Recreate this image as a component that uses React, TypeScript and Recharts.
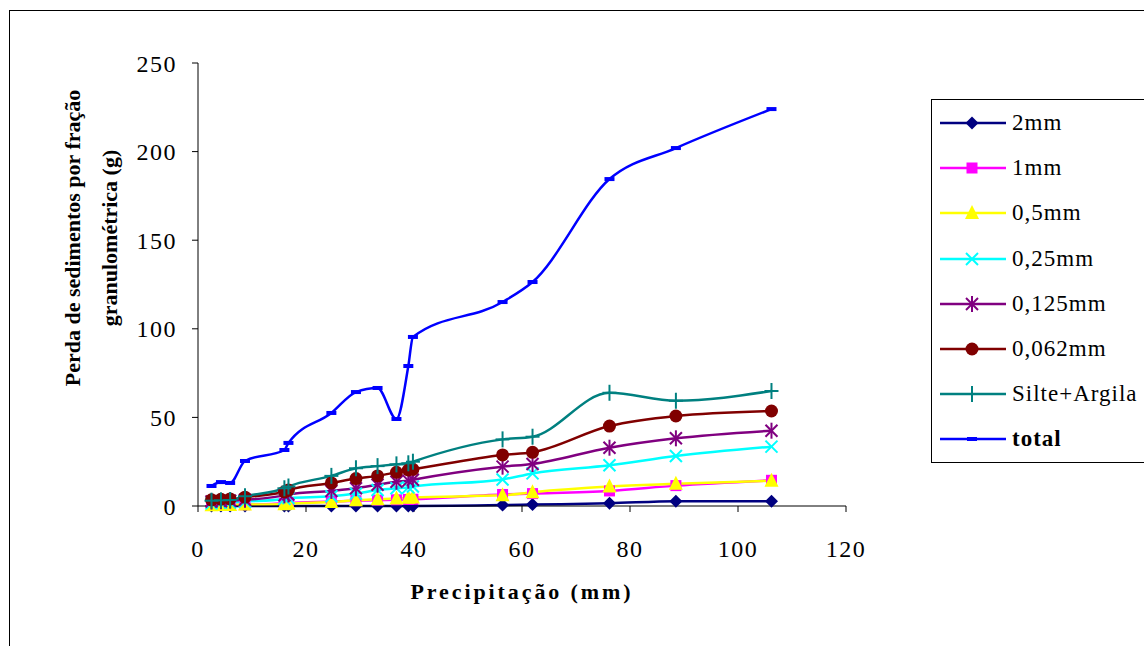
import React from 'react';
import { LineChart, Line, XAxis, YAxis } from 'recharts';

// ─── Data ─────────────────────────────────────────────────────────────────────

const precipitation = [2.5, 4.25, 5.95, 8.7, 16, 16.75, 24.7, 29.25, 33.25, 36.75, 38.95, 39.8, 56.4, 61.95, 76.2, 88.5, 106.2];

const fraction2mm = [0, 0, 0, 0, 0, 0, 0, 0, 0, 0, 0, 0, 0.5, 0.8, 1.5, 2.7, 2.7];
const fraction1mm = [0.3, 0.4, 0.5, 0.7, 1.5, 1.7, 2.5, 3, 3.3, 3.5, 3.7, 3.8, 6.5, 7, 8.5, 11.5, 14.5];
const fraction05mm = [0.4, 0.5, 0.6, 0.8, 1, 1.2, 2.2, 3.2, 3.8, 4.3, 4.6, 4.8, 6, 7.8, 11, 12.5, 14.3];
const fraction025mm = [1.5, 1.8, 2, 2.5, 4, 4.5, 5.5, 7, 9, 10, 10.5, 11, 15, 18.4, 23, 28.2, 33.5];
const fraction0125mm = [2.5, 2.7, 3, 3.5, 6, 6.5, 8.5, 10, 12, 13.7, 14.3, 14.8, 22.2, 23.7, 32.9, 38.2, 42.5];
const fraction0062mm = [3.5, 3.8, 4, 5, 8, 9, 13, 15.5, 17, 19, 20.3, 20.7, 28.8, 30.3, 45.1, 50.8, 53.6];
const silteArgila = [3, 3.2, 3.4, 5.5, 10, 11, 17, 21.3, 22.5, 23.5, 24.1, 25, 37.6, 39.1, 63.9, 59.4, 64.9];
const totalLoss = [11.3, 13.5, 13, 25.4, 31.6, 35.6, 52.5, 64.3, 66.6, 49.1, 79, 95.4, 115.1, 126.4, 184.5, 202, 224];

const xTicks = [0, 20, 40, 60, 80, 100, 120];
const yTicks = [0, 50, 100, 150, 200, 250];

type Shape = 'diamond' | 'square' | 'triangle' | 'cross' | 'star' | 'circle' | 'plus' | 'dash';

interface SeriesDef {
  key: string;
  name: string;
  color: string;
  shape: Shape;
  values: number[];
  bold?: boolean;
}

const series: SeriesDef[] = [
  { key: 'f2', name: '2mm', color: '#000080', shape: 'diamond', values: fraction2mm },
  { key: 'f1', name: '1mm', color: '#FF00FF', shape: 'square', values: fraction1mm },
  { key: 'f05', name: '0,5mm', color: '#FFFF00', shape: 'triangle', values: fraction05mm },
  { key: 'f025', name: '0,25mm', color: '#00FFFF', shape: 'cross', values: fraction025mm },
  { key: 'f0125', name: '0,125mm', color: '#800080', shape: 'star', values: fraction0125mm },
  { key: 'f0062', name: '0,062mm', color: '#800000', shape: 'circle', values: fraction0062mm },
  { key: 'silte', name: 'Silte+Argila', color: '#008080', shape: 'plus', values: silteArgila },
  { key: 'total', name: 'total', color: '#0000FF', shape: 'dash', values: totalLoss, bold: true },
];

const chartData = precipitation.map((p, i) => {
  const row: Record<string, number> = { precip: p };
  series.forEach((s) => {
    row[s.key] = s.values[i];
  });
  return row;
});

const FONT = '"Liberation Serif", "Times New Roman", serif';

// ─── Markers ──────────────────────────────────────────────────────────────────

const Marker: React.FC<{ shape: Shape; cx: number; cy: number; color: string }> = ({ shape, cx, cy, color }) => {
  switch (shape) {
    case 'diamond':
      return <polygon points={`${cx},${cy - 6.5} ${cx + 6.5},${cy} ${cx},${cy + 6.5} ${cx - 6.5},${cy}`} fill={color} />;
    case 'square':
      return <rect x={cx - 5.5} y={cy - 5.5} width={11} height={11} fill={color} />;
    case 'triangle':
      return <polygon points={`${cx},${cy - 8} ${cx + 7},${cy + 6} ${cx - 7},${cy + 6}`} fill={color} />;
    case 'cross':
      return (
        <g stroke={color} strokeWidth={2}>
          <line x1={cx - 6} y1={cy - 6} x2={cx + 6} y2={cy + 6} />
          <line x1={cx - 6} y1={cy + 6} x2={cx + 6} y2={cy - 6} />
        </g>
      );
    case 'star':
      return (
        <g stroke={color} strokeWidth={2}>
          <line x1={cx - 6} y1={cy - 6} x2={cx + 6} y2={cy + 6} />
          <line x1={cx - 6} y1={cy + 6} x2={cx + 6} y2={cy - 6} />
          <line x1={cx} y1={cy - 8} x2={cx} y2={cy + 8} />
        </g>
      );
    case 'circle':
      return <circle cx={cx} cy={cy} r={6.5} fill={color} />;
    case 'plus':
      return (
        <g stroke={color} strokeWidth={2}>
          <line x1={cx} y1={cy - 8} x2={cx} y2={cy + 8} />
          <line x1={cx - 7} y1={cy} x2={cx + 7} y2={cy} />
        </g>
      );
    case 'dash':
    default:
      return <rect x={cx - 5} y={cy - 2} width={10} height={4} fill={color} />;
  }
};

// ─── Legend ───────────────────────────────────────────────────────────────────

const LegendBox: React.FC = () => (
  <div
    style={{
      position: 'absolute',
      left: 931,
      top: 99,
      width: 215,
      height: 364,
      border: '1px solid #000',
      boxSizing: 'border-box',
      background: '#fff',
    }}
  >
    {series.map((s, i) => (
      <div
        key={s.key}
        style={{
          position: 'absolute',
          left: 0,
          top: 23 + i * 45.2 - 16,
          height: 32,
          width: 215,
          display: 'flex',
          alignItems: 'center',
        }}
      >
        <svg width={80} height={32} style={{ display: 'block' }}>
          <line x1={8} y1={16} x2={74} y2={16} stroke={s.color} strokeWidth={2.5} />
          <Marker shape={s.shape} cx={40} cy={16} color={s.color} />
        </svg>
        <span
          style={{
            fontFamily: FONT,
            fontSize: 23,
            letterSpacing: 1,
            fontWeight: s.bold ? 'bold' : 'normal',
            color: '#000',
            whiteSpace: 'nowrap',
          }}
        >
          {s.name}
        </span>
      </div>
    ))}
  </div>
);

// ─── Chart ────────────────────────────────────────────────────────────────────

const App: React.FC = () => {
  const tickStyle = { fill: '#000', fontSize: 24, fontFamily: FONT, letterSpacing: 1.5 };

  return (
    <div
      style={{
        position: 'absolute',
        left: 0,
        top: 0,
        width: 1144,
        height: 646,
        overflow: 'hidden',
        background: '#fff',
      }}
    >
      <div
        style={{
          position: 'absolute',
          left: 9,
          top: 10,
          width: 1200,
          height: 700,
          border: '1px solid #000',
        }}
      />

      <div style={{ position: 'absolute', left: 0, top: 0 }}>
        <LineChart
          width={1144}
          height={646}
          data={chartData}
          margin={{ top: 63, right: 298, bottom: 100, left: 138 }}
        >
          <XAxis
            dataKey="precip"
            type="number"
            domain={[0, 120]}
            ticks={xTicks}
            height={40}
            tick={tickStyle}
            tickSize={6}
            tickMargin={28}
            stroke="#000"
            axisLine={{ stroke: '#000', strokeWidth: 1 }}
            tickLine={{ stroke: '#000' }}
          />
          <YAxis
            type="number"
            domain={[0, 250]}
            ticks={yTicks}
            width={60}
            tick={tickStyle}
            tickSize={6}
            tickMargin={15}
            stroke="#000"
            axisLine={{ stroke: '#000', strokeWidth: 1 }}
            tickLine={{ stroke: '#000' }}
          />
          {series.map((s) => (
            <Line
              key={s.key}
              dataKey={s.key}
              name={s.name}
              type="monotone"
              stroke={s.color}
              strokeWidth={2.5}
              isAnimationActive={false}
              activeDot={false}
              dot={(p: any) => (
                <Marker key={`${s.key}-${p.index}`} shape={s.shape} cx={p.cx} cy={p.cy} color={s.color} />
              )}
            />
          ))}
        </LineChart>
      </div>

      {/* Axis titles */}
      <svg width={200} height={646} style={{ position: 'absolute', left: 0, top: 0 }}>
        <text
          x={80}
          y={238}
          transform="rotate(-90 80 238)"
          textAnchor="middle"
          fontFamily={FONT}
          fontSize={22}
          fontWeight="bold"
          fill="#000"
        >
          Perda  de sedimentos por fração
        </text>
        <text
          x={117}
          y={238}
          transform="rotate(-90 117 238)"
          textAnchor="middle"
          fontFamily={FONT}
          fontSize={22}
          fontWeight="bold"
          fill="#000"
        >
          granulométrica (g)
        </text>
      </svg>

      <div
        style={{
          position: 'absolute',
          left: 322,
          width: 400,
          top: 581,
          textAlign: 'center',
          fontFamily: FONT,
          fontSize: 22,
          lineHeight: '22px',
          fontWeight: 'bold',
          letterSpacing: 2.9,
          color: '#000',
        }}
      >
        Precipitação (mm)
      </div>

      <LegendBox />
    </div>
  );
};

export default App;
